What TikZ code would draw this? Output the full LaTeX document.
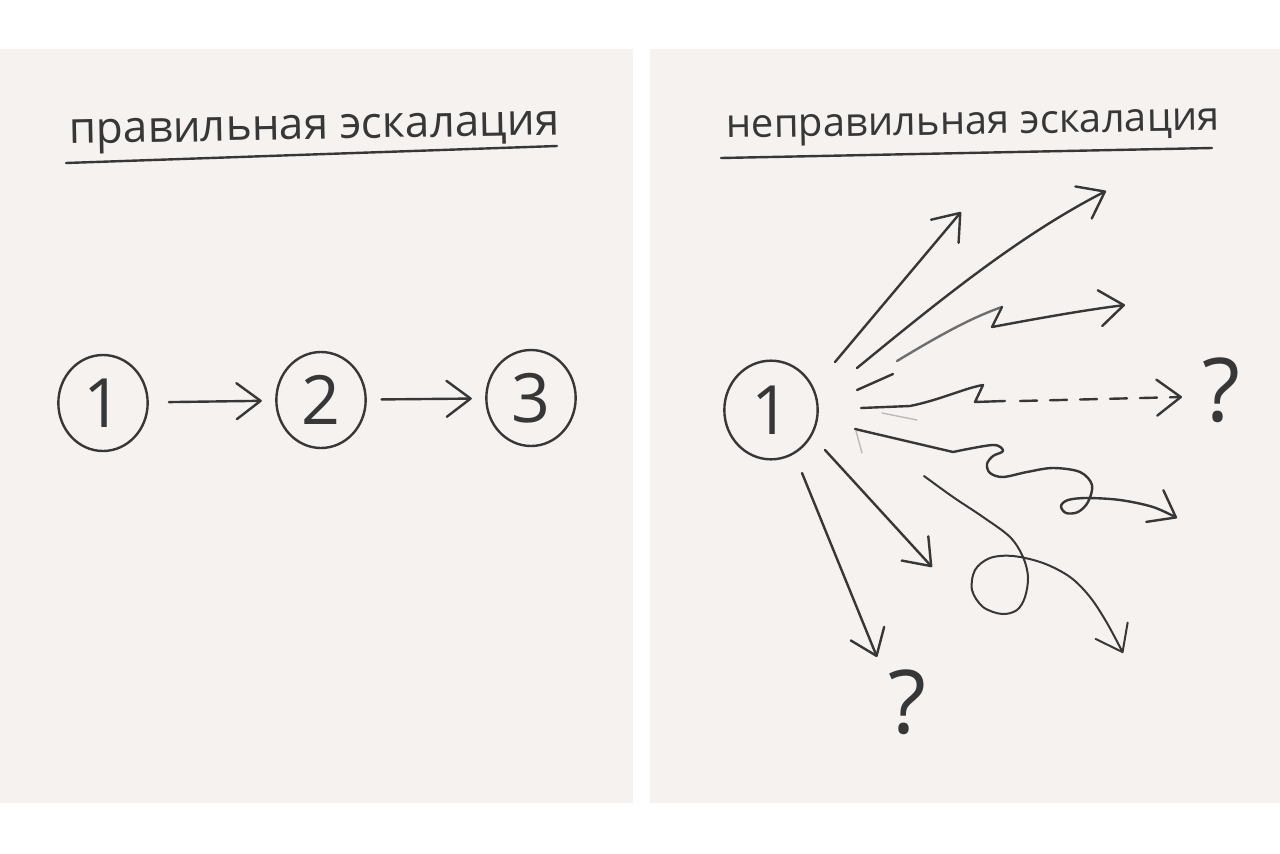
\documentclass[tikz,border=0pt]{standalone}
\usepackage{fontspec}
\setmainfont{Open Sans}
\usetikzlibrary{arrows.meta,shapes.geometric}
\definecolor{paper}{RGB}{245,242,240}
\definecolor{pencil}{RGB}{55,55,55}
\definecolor{pencillight}{RGB}{110,110,110}
\definecolor{pencilfaint}{RGB}{185,185,185}

\begin{document}
\begin{tikzpicture}[x=0.75pt,y=0.75pt,yscale=-1,xscale=1,
  stroke/.style={draw=pencil,line width=1.8pt,line cap=round,line join=round},
  head/.style={-{Straight Barb[length=18pt,width=27pt,round]}},
  numcircle/.style={ellipse,draw=pencil,line width=1.8pt,minimum width=67pt,minimum height=72pt,inner sep=0pt,text=pencil,font=\fontsize{51}{51}\selectfont},
  title/.style={inner sep=0pt,anchor=base west,text=pencil,font=\fontsize{33}{33}\selectfont},
  qmark/.style={inner sep=0pt,text=pencil,font=\fontsize{66}{66}\selectfont}]
%set diagram size 1280 x 853
\path[use as bounding box,fill=white] (0,0) rectangle (1280,853);

%Shape: Rectangle [left sheet]
\fill[paper] (0,49) rectangle (633,803);
%Shape: Rectangle [right sheet]
\fill[paper] (650,49) rectangle (1280,803);

% Text Node
\node[title,rotate=1.1] (lefttitle) at (69,144) {правильная эскалация};
%Straight Lines
\draw[stroke] (66,163) -- (557,146);
% Text Node
\node[title,rotate=0.9,font=\fontsize{30}{30}\selectfont] (righttitle) at (726,138) {неправильная эскалация};
%Straight Lines
\draw[stroke] (721,158) -- (1212,148);

%Shape: Circles of the right way
\node[numcircle] (step1) at (103,403) {1};
\node[numcircle] (step2) at (321,400) {2};
\node[numcircle] (step3) at (531,398) {3};
\draw[stroke,head,shorten <=15pt,shorten >=10pt] (step1) -- (step2);
\draw[stroke,head,shorten <=11pt,shorten >=10pt] (step2) -- (step3);

%Shape: Circle of the wrong way
\node[numcircle,minimum width=70pt,minimum height=74pt] (start) at (771,410) {1};

%Straight Lines [up]
\coordinate (a0) at (835,362); \coordinate (a1) at (961,212);
\draw[stroke,head] (a0) -- (a1);
%Curve [far up]
\coordinate (b0) at (857,368); \coordinate (b1) at (1106,191);
\draw[stroke,head] (b0) .. controls (940,300) and (1020,235) .. (b1);
%Curve [zigzag]
\coordinate (c0) at (897,361); \coordinate (c1) at (1002,307); \coordinate (c2) at (1125,305);
\draw[stroke,draw=pencillight] (c0) .. controls (935,338) and (970,318) .. (c1);
\draw[stroke,head] (c1) -- (992,327) .. controls (1040,318) and (1085,310) .. (c2);
%Straight Lines [short]
\coordinate (d0) at (857,390); \coordinate (d1) at (893,374);
\draw[stroke] (d0) -- (d1);
%Lines [dashed to the question]
\coordinate (e0) at (861,408); \coordinate (e1) at (1182,397);
\draw[stroke] (e0) -- (910,406) .. controls (940,400) and (965,388) .. (983,385) -- (975,402) -- (1005,401);
\draw[stroke,head,dash pattern=on 12.75pt off 9.75pt] (1020,401) -- (e1);
\draw[stroke,draw=pencilfaint,line width=1pt] (882,413) -- (917,420);
\node[qmark] (q1) at (1221,390) {?};
%Curve [loop right]
\coordinate (f0) at (855,429); \coordinate (f1) at (1177,518);
\draw[stroke,head] (f0) -- plot[smooth,tension=0.55] coordinates {(953,452) (993,445) (1003,451) (993,456) (987,464) (990,473) (1003,477) (1027,472) (1053,468) (1080,472) (1092,485) (1088,502) (1078,512) (1066,513) (1061,506) (1068,500) (1087,498) (1120,500) (1153,507) (f1)};
\draw[stroke,draw=pencilfaint,line width=1pt] (856,431) -- (862,453);
%Straight Lines [down]
\coordinate (g0) at (825,450); \coordinate (g1) at (932,567);
\draw[stroke,head] (g0) -- (g1);
\coordinate (h0) at (802,473); \coordinate (h1) at (877,657);
\draw[stroke,head] (h0) -- (h1);
\node[qmark] (q2) at (907,702) {?};
%Curve [loop down]
\coordinate (i0) at (924,476); \coordinate (i1) at (1123,653);
\draw[stroke,line width=1.5pt,head] plot[smooth,tension=0.55] coordinates {(i0) (953,497) (983,517) (1010,537) (1023,557) (1028,577) (1025,597) (1017,610) (1002,614) (983,607) (972,590) (975,570) (990,558) (1013,556) (1043,563) (1070,577) (1090,597) (1107,623) (i1)};

\end{tikzpicture}
\end{document}
